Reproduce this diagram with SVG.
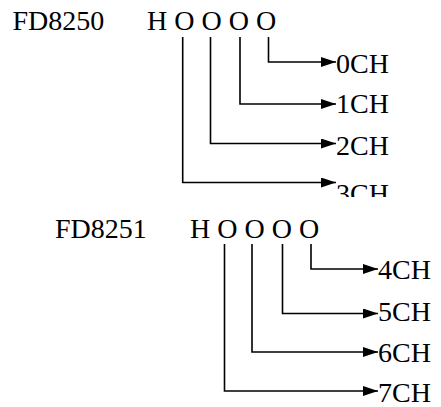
<svg xmlns="http://www.w3.org/2000/svg" width="441" height="407" viewBox="0 0 441 407">
<style>
text{font-family:"Liberation Serif","Times New Roman",serif;font-size:28px;fill:#000}
.c{fill:none;stroke:#000;stroke-width:1.6}
</style>
<defs>
<marker id="a" viewBox="0 0 15 10" refX="15" refY="5" markerWidth="15" markerHeight="10" markerUnits="userSpaceOnUse" orient="auto">
<path d="M0,0L15,5L0,10Z" fill="#000"/>
</marker>
<clipPath id="clip3"><rect x="330" y="170" width="80" height="27"/></clipPath>
</defs>
<g id="reg0">
<text x="12.5" y="30">FD8250</text>
<text x="147" y="30">H O O O O</text>
</g>
<g id="reg1">
<text x="55" y="238">FD8251</text>
<text x="190" y="238">H O O O O</text>
</g>
<g id="labels0">
<text x="336" y="73">0CH</text>
<text x="336" y="113">1CH</text>
<text x="336" y="155">2CH</text>
<text x="336" y="203" clip-path="url(#clip3)">3CH</text>
</g>
<g id="labels1">
<text x="378" y="278.5">4CH</text>
<text x="378" y="320.5">5CH</text>
<text x="378" y="362">6CH</text>
<text x="378" y="402">7CH</text>
</g>
<g id="connectors">
<path class="c" marker-end="url(#a)" d="M268.5,37V62H336"/>
<path class="c" marker-end="url(#a)" d="M240,37V104H336"/>
<path class="c" marker-end="url(#a)" d="M210.5,37V143.5H336"/>
<path class="c" marker-end="url(#a)" d="M182.7,37V182.5H336"/>
<path class="c" marker-end="url(#a)" d="M311,244V269H378"/>
<path class="c" marker-end="url(#a)" d="M282.5,244V313.5H378"/>
<path class="c" marker-end="url(#a)" d="M252,244V352H378"/>
<path class="c" marker-end="url(#a)" d="M224.5,244V391H378"/>
</g>
</svg>
